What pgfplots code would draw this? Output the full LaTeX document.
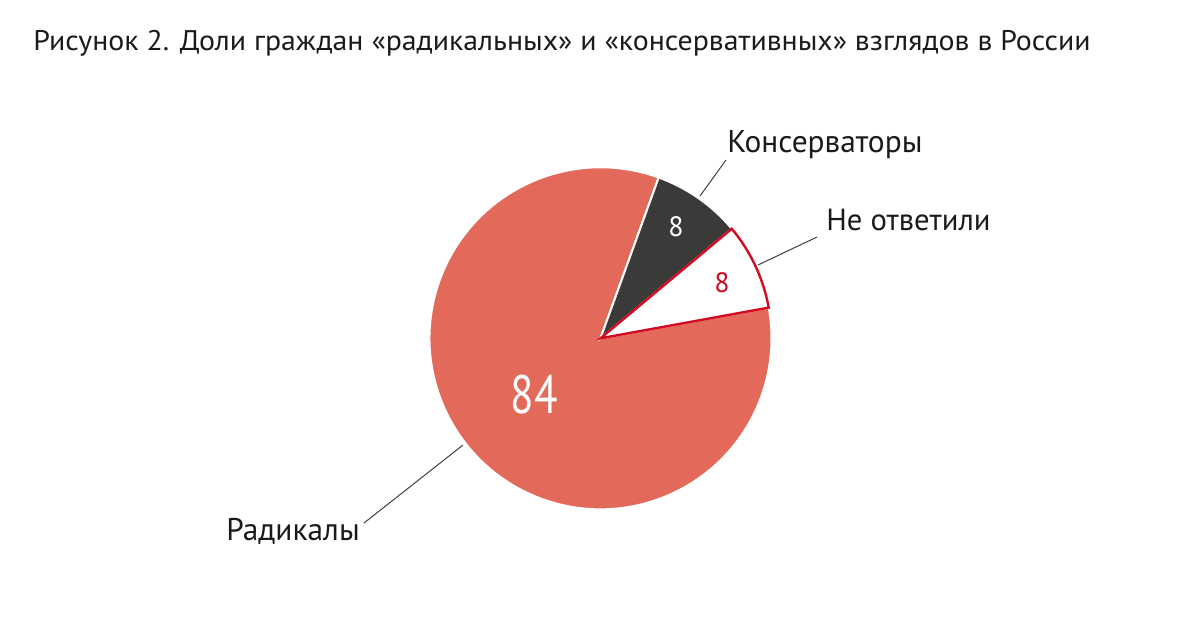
\documentclass[border=0pt]{standalone}
\usepackage{pgfplots}
\pgfplotsset{compat=1.18}
\usepackage{pgfplotstable}
\usepackage{fontspec}
\setmainfont{PT Sans}
\newfontfamily\numfont[FakeStretch=0.8]{PT Sans}
\newfontfamily\titlefont[FakeStretch=1.05]{PT Sans}

\definecolor{radcol}{HTML}{E36A5B}
\definecolor{concol}{HTML}{3A3A38}
\definecolor{nacol}{HTML}{D20A22}
\definecolor{txtcol}{HTML}{1A1A1A}

% shares in percent
\pgfplotstableread{
group share label
rad   83.4  84
na    8.2   8
con   8.4   8
}\piedata

\begin{document}
\begin{tikzpicture}
\path[use as bounding box] (0,0) rectangle (600pt,-309pt);

\pgfplotstablegetelem{0}{share}\of\piedata \let\sR\pgfplotsretval
\pgfplotstablegetelem{1}{share}\of\piedata \let\sN\pgfplotsretval
\pgfplotstablegetelem{2}{share}\of\piedata \let\sC\pgfplotsretval
\pgfmathsetmacro{\aR}{70.1}
\pgfmathsetmacro{\bR}{\aR+3.6*\sR}
\pgfmathsetmacro{\bN}{\bR+3.6*\sN}
\pgfmathsetmacro{\bC}{\bN+3.6*\sC}

\begin{axis}[
    hide axis,
    x=85.5pt, y=85.5pt,
    xmin=-1.1, xmax=1.1, ymin=-1.1, ymax=1.1,
    anchor=center, at={(300.25pt,-169.15pt)},
    clip=false,
]
% Radikaly
\filldraw[fill=radcol, draw=white, line width=1pt]
    (axis cs:0,0) -- ++(\aR:85.5pt) arc[start angle=\aR, end angle=\bR, radius=85.5pt] -- cycle;
% Konservatory
\filldraw[fill=concol, draw=white, line width=1pt]
    (axis cs:0,0) -- ++(\bN:85.5pt) arc[start angle=\bN, end angle=\bC, radius=85.5pt] -- cycle;
% Ne otvetili
\filldraw[fill=white, draw=nacol, line width=1.2pt, line join=miter]
    (axis cs:0,0) -- ++(\bR:85.5pt) arc[start angle=\bR, end angle=\bN, radius=85.5pt] -- cycle;
\end{axis}

\begin{scope}[x=0.5pt, y=-0.5pt]
% title
\node[anchor=base west, inner sep=0pt, text=txtcol, font=\titlefont\fontsize{14.2}{16}\selectfont]
    at (33,50) {Рисунок 2. Доли граждан «радикальных» и «консервативных» взглядов в России};

% leader lines
\draw[black!75, line width=0.5pt] (700,196) -- (726,160);
\draw[black!75, line width=0.5pt] (758,265) -- (817,237);
\draw[black!75, line width=0.5pt] (463,445) -- (364,523);

% labels
\node[anchor=base west, inner sep=0pt, text=txtcol, font=\fontsize{15.7}{18}\selectfont]
    at (727,152) {Консерваторы};
\node[anchor=base west, inner sep=0pt, text=txtcol, font=\fontsize{15.3}{18}\selectfont]
    at (826,230) {Не ответили};
\node[anchor=base west, inner sep=0pt, text=txtcol, font=\fontsize{15.7}{18}\selectfont]
    at (226,540) {Радикалы};

% values
\node[inner sep=0pt, text=white, font=\numfont\fontsize{27}{30}\selectfont]
    at (534,395) {84};
\node[inner sep=0pt, text=white, font=\fontsize{14}{16}\selectfont]
    at (676,227) {8};
\node[inner sep=0pt, text=nacol, font=\fontsize{14}{16}\selectfont]
    at (722,283) {8};
\end{scope}
\end{tikzpicture}
\end{document}
